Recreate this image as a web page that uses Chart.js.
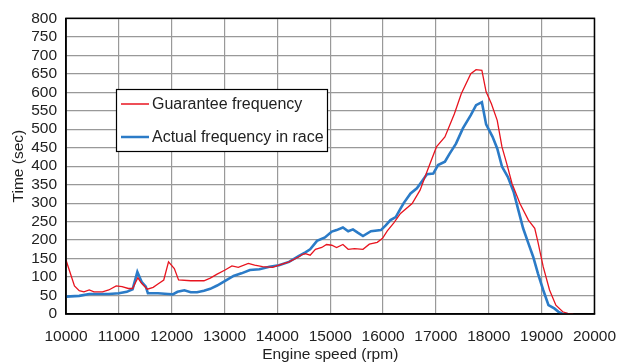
<!DOCTYPE html>
<html>
<head>
<meta charset="utf-8">
<title>Engine speed vs time</title>
<script src="https://cdn.jsdelivr.net/npm/chart.js@4/dist/chart.umd.min.js"></script>
<style>
  html, body { margin: 0; padding: 0; background: #fff; }
  #wrap { width: 629px; height: 362px; position: relative; }
</style>
</head>
<body>
<div id="wrap"><canvas id="c"></canvas></div>
<script>
// Guarantee frequency: engine speed (rpm) and time spent (sec)
const guaranteeRpm = [10000,10160,10250,10340,10440,10530,10690,10810,10950,11060,11180,11260,11360,11430,11540,11650,11740,11850,11940,12050,12130,12360,12610,12730,12860,13010,13140,13260,13450,13570,13720,13910,14030,14220,14410,14470,14530,14620,14720,14840,14930,15030,15120,15240,15340,15460,15620,15740,15890,15990,16080,16200,16330,16550,16700,16830,17010,17170,17350,17480,17660,17760,17870,17950,18050,18160,18250,18340,18440,18590,18750,18870,18930,19030,19150,19270,19400,19490,19550,19600];
const guaranteeTime = [146,76,63,60,65,60,60,65,76,74,69,69,98,83,67,72,81,92,141,123,92,90,90,97,108,119,130,126,137,132,128,126,132,141,155,161,163,159,175,180,188,186,180,188,175,177,175,189,194,205,225,246,272,299,335,385,452,479,542,596,650,661,659,601,569,524,452,407,353,299,254,232,195,128,65,24,6,2,0,0];

// Actual frequency in race
const actualRpm = [10000,10250,10440,10810,11000,11150,11260,11350,11430,11510,11550,11740,11930,12020,12110,12240,12360,12480,12610,12730,12860,12980,13170,13320,13480,13660,13850,14030,14220,14410,14530,14620,14750,14900,15030,15120,15240,15340,15430,15520,15620,15770,15960,16050,16140,16240,16330,16390,16520,16640,16730,16830,16950,17040,17170,17260,17380,17510,17660,17760,17870,17950,18070,18160,18250,18360,18470,18560,18650,18750,18840,18930,19030,19130,19240,19320,19400,19500];
const actualTime = [47,49,54,54,56,60,67,114,87,74,56,56,54,53,60,64,59,59,63,68,77,87,103,110,119,121,128,132,141,157,167,175,198,207,223,227,234,224,229,220,211,224,227,240,254,262,285,300,326,340,358,378,380,403,412,434,461,502,538,565,573,513,480,448,399,371,331,281,232,191,155,110,65,24,15,6,0,0];

const seriesLabels = ['Guarantee frequency', 'Actual frequency in race'];
const seriesColors = ['#e8141f', '#2b7bc7'];

const toPoints = (xs, ys) => xs.map((x, i) => ({ x: x, y: ys[i] }));

const FONT = "'Liberation Sans', Arial, Helvetica, sans-serif";

// Black frame around the plot and a boxed legend inside it
const frameAndLegend = {
  id: 'frameAndLegend',
  afterDatasetsDraw(chart) {
    const { ctx, chartArea: a } = chart;
    ctx.save();
    ctx.strokeStyle = '#000';
    ctx.lineWidth = 1.5;
    ctx.strokeRect(a.left, a.top, a.right - a.left, a.bottom - a.top);

    const bx = 116.5, by = 89.5, bw = 211, bh = 62;
    ctx.fillStyle = '#fff';
    ctx.fillRect(bx, by, bw, bh);
    ctx.lineWidth = 1.2;
    ctx.strokeStyle = '#000';
    ctx.strokeRect(bx, by, bw, bh);

    ctx.font = '16px ' + FONT;
    ctx.textBaseline = 'middle';
    ctx.textAlign = 'left';
    const rows = [104, 137];
    chart.data.datasets.forEach((ds, i) => {
      ctx.strokeStyle = ds.borderColor;
      ctx.lineWidth = i === 0 ? 1.5 : 2.5;
      ctx.beginPath();
      ctx.moveTo(121, rows[i]);
      ctx.lineTo(149, rows[i]);
      ctx.stroke();
      ctx.fillStyle = '#222';
      ctx.fillText(ds.label, 152, rows[i] + 1);
    });
    ctx.restore();
  }
};

new Chart(document.getElementById('c'), {
  type: 'line',
  data: {
    datasets: [
      {
        label: seriesLabels[0],
        data: toPoints(guaranteeRpm, guaranteeTime),
        borderColor: seriesColors[0],
        borderWidth: 1.3,
        pointRadius: 0,
        tension: 0,
        fill: false
      },
      {
        label: seriesLabels[1],
        data: toPoints(actualRpm, actualTime),
        borderColor: seriesColors[1],
        borderWidth: 2.6,
        pointRadius: 0,
        tension: 0,
        fill: false
      }
    ]
  },
  options: {
    responsive: true,
    maintainAspectRatio: false,
    animation: false,
    events: [],
    layout: { padding: { top: 18, right: 25, bottom: 0, left: 0 } },
    plugins: {
      legend: { display: false },
      tooltip: { enabled: false }
    },
    scales: {
      x: {
        type: 'linear',
        min: 10000,
        max: 20000,
        afterFit: s => { s.height = 48; },
        ticks: {
          stepSize: 1000,
          padding: 13,
          autoSkip: false,
          maxRotation: 0,
          color: '#222',
          font: { family: FONT, size: 15.5 },
          callback: v => String(v)
        },
        grid: { color: '#999', lineWidth: 1.2, drawTicks: false },
        border: { color: '#000', width: 1.5 },
        title: {
          display: true,
          text: 'Engine speed (rpm)',
          color: '#222',
          font: { family: FONT, size: 15.5 },
          padding: { top: 0, bottom: -2 }
        }
      },
      y: {
        min: 0,
        max: 800,
        afterFit: s => { s.width = 66; },
        ticks: {
          stepSize: 50,
          padding: 9,
          autoSkip: false,
          color: '#222',
          font: { family: FONT, size: 15.5 }
        },
        grid: { color: '#999', lineWidth: 1.2, drawTicks: false },
        border: { color: '#000', width: 1.5 },
        title: {
          display: true,
          text: 'Time (sec)',
          color: '#222',
          font: { family: FONT, size: 15.5 },
          padding: { top: 9, bottom: 0 }
        }
      }
    }
  },
  plugins: [frameAndLegend]
});
</script>
</body>
</html>
